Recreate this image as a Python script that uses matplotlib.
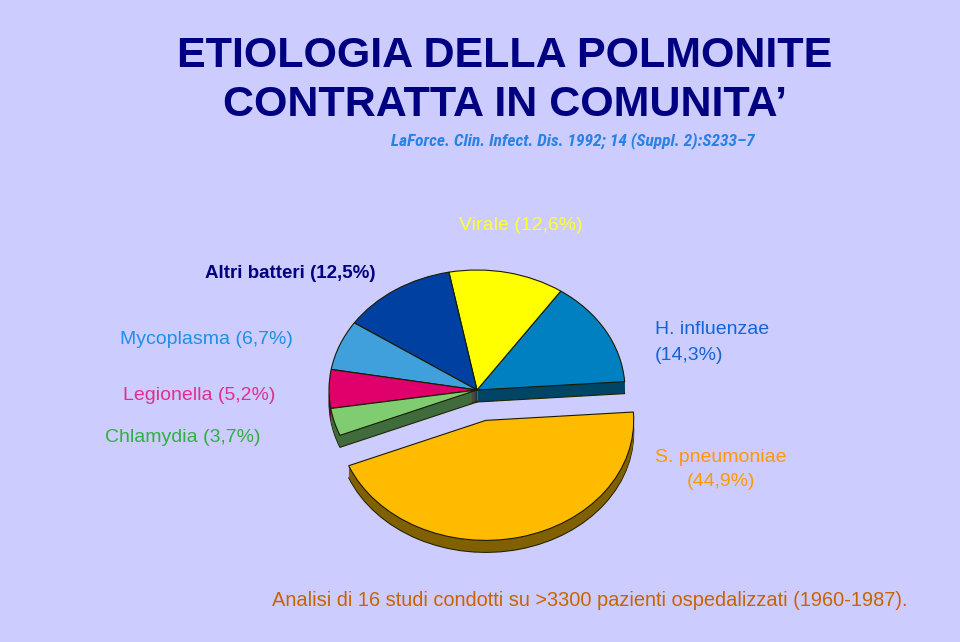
import matplotlib.pyplot as plt

# data, in pie order (counter-clockwise from the right)
names = ["H. influenzae", "Virale", "Altri batteri", "Mycoplasma",
         "Legionella", "Chlamydia", "S. pneumoniae"]
values = [14.3, 12.6, 12.5, 6.7, 5.2, 3.7, 44.9]
explode = [0, 0, 0, 0, 0, 0, 0.26]

top_colors = ["#0080C0", "#FFFF00", "#0040A0", "#3FA0DC",
              "#E0006C", "#80CC70", "#FFBB00"]
side_colors = ["#004466", "#808000", "#002050", "#205070",
               "#700036", "#406B3C", "#806000"]
label_colors = ["#1464D8", "#FFFF33", "#000080", "#1E90E8",
                "#E0308C", "#30B040", "#FF9900"]

W, H = 960, 642
BG = "#CCCCFF"
narrow = ["Roboto Condensed", "Liberation Sans", "DejaVu Sans"]
plt.rcParams["font.family"] = ["Liberation Sans", "DejaVu Sans"]

fig = plt.figure(figsize=(W / 100, H / 100), dpi=100, facecolor=BG)

# pie axes: ellipse with rx=148px, ry=120px centred at (477, 390)
cx, cy, rx, ry = 477, 390, 148, 120
ax = fig.add_axes([(cx - 2 * rx) / W, (H - cy - 2 * ry) / H, 4 * rx / W, 4 * ry / H])
ax.set_facecolor("none")

depth = 12 / ry
steps = 12
for k in range(steps, 0, -1):
    d = depth * k / steps
    ax.pie(values, explode=explode, startangle=4, counterclock=True,
           colors=side_colors, center=(0, -d),
           wedgeprops=dict(edgecolor="#222200" if k == steps else "none",
                           linewidth=0.8))
ax.pie(values, explode=explode, startangle=4, counterclock=True,
       colors=top_colors, wedgeprops=dict(edgecolor="#1a1a00", linewidth=0.8))
ax.set_aspect("auto")
ax.set_xlim(-2, 2)
ax.set_ylim(-2, 2)
ax.axis("off")

# overlay axes in pixel coordinates for the texts
tx = fig.add_axes([0, 0, 1, 1])
tx.set_xlim(0, W)
tx.set_ylim(H, 0)
tx.axis("off")
tx.patch.set_alpha(0)

tx.text(505, 67, "ETIOLOGIA DELLA POLMONITE", weight="bold",
        fontsize=31, color="#000080", ha="center", va="baseline")
tx.text(505, 116, "CONTRATTA IN COMUNITA\u2019", weight="bold",
        fontsize=31, color="#000080", ha="center", va="baseline")
tx.text(755, 145, "LaForce. Clin. Infect. Dis. 1992; 14 (Suppl. 2):S233\u20137",
        family=narrow, style="italic", weight="bold", fontsize=12.5,
        color="#2882E6", ha="right", va="baseline")


def pct(v):
    return "(" + f"{v:.1f}".replace(".", ",") + "%)"


def lab(i):
    return names[i] + " " + pct(values[i])


fs = 14
tx.text(521, 226, lab(1), fontsize=fs, color=label_colors[1], ha="center", va="center")
tx.text(205, 274, lab(2), fontsize=13.5, weight="bold", color=label_colors[2],
        ha="left", va="center")
tx.text(120, 340, lab(3), fontsize=fs, color=label_colors[3], ha="left", va="center")
tx.text(123, 396, lab(4), fontsize=fs, color=label_colors[4], ha="left", va="center")
tx.text(105, 438, lab(5), fontsize=fs, color=label_colors[5], ha="left", va="center")

tx.text(655, 330, names[0], fontsize=fs, color=label_colors[0], ha="left", va="center")
tx.text(655, 355, pct(values[0]), fontsize=fs, color=label_colors[0], ha="left", va="center")
tx.text(721, 458, names[6], fontsize=fs, color=label_colors[6], ha="center", va="center")
tx.text(721, 482, pct(values[6]), fontsize=fs, color=label_colors[6], ha="center", va="center")

tx.text(590, 601, "Analisi di 16 studi condotti su >3300 pazienti ospedalizzati (1960-1987).",
        fontsize=14.4, color="#C86400", ha="center", va="center")

fig.savefig("out.png", dpi=100, facecolor=BG)
